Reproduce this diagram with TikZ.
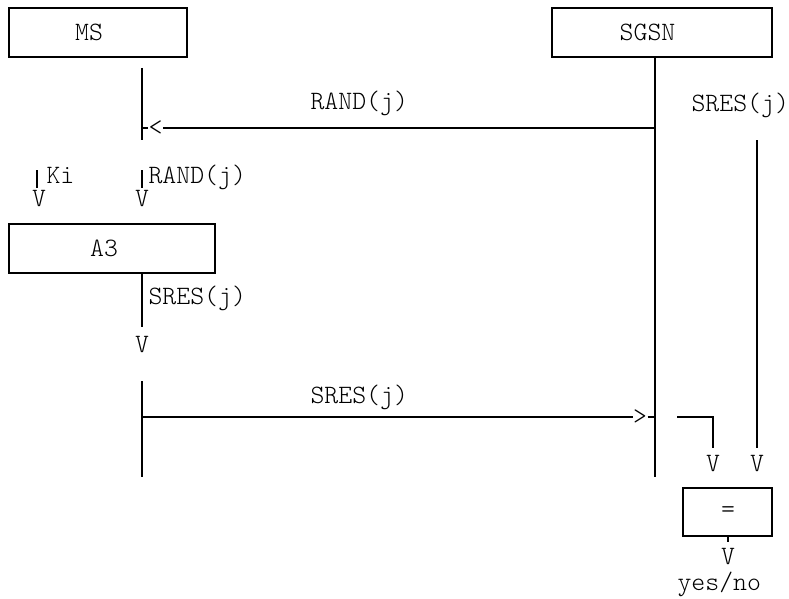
\documentclass[tikz,border=0pt]{standalone}
\usepackage{fontspec}
\setmonofont{Latin Modern Mono Light}
\begin{document}
\begin{tikzpicture}[x=1pt,y=-1pt,line width=1.1pt,
  every node/.style={font=\ttfamily\fontsize{26.5}{30}\selectfont,inner sep=0pt},
  box/.style={draw,line width=1.1pt},
  lbl/.style={anchor=base west},
  tip/.style={anchor=base}]
\useasboundingbox (0,0) rectangle (789,599);
% boxes
\node[box,minimum width=178pt,minimum height=49pt] (ms) at (98,32.5) {};
\node (mst) at (89,32.5) {MS};
\node[box,minimum width=220pt,minimum height=49pt] (sgsn) at (662,32.5) {};
\node (sgsnt) at (647.5,32.5) {SGSN};
\node[box,minimum width=206pt,minimum height=49pt] (a3) at (112,248.5) {};
\node (a3t) at (104,248.5) {A3};
\node[box,minimum width=89pt,minimum height=48pt] (eq) at (727.5,512) {};
\node (eqt) at (728,512) {=};
% SGSN lifeline
\coordinate (sgbot) at (655,477);
\draw (sgbot |- sgsn.south) -- (sgbot);
% MS upper lifeline and RAND arrow
\coordinate (ms1top) at (142,68);
\coordinate (ms1bot) at (142,140);
\draw (ms1top) -- (ms1bot);
\node (lt) at (155.5,128) {<};
\draw (ms1bot |- lt.west) -- (lt.west);
\draw (lt.east) -- (lt.east -| sgbot);
\node[lbl] (rl) at (310,110) {RAND(j)};
% right SRES line
\node[lbl] (srl) at (691,111) {SRES(j)};
\coordinate (srtop) at (757,140);
\node[tip] (v4) at (757,471) {V};
\draw (srtop) -- ([yshift=6pt]v4.north);
% Ki input
\coordinate (kitop) at (37,170);
\draw (kitop) -- ++(0,18);
\node[lbl] (kil) at (46,183) {Ki};
\node[tip] (vki) at (39,206) {V};
% RAND input
\coordinate (ratop) at (142,170);
\draw (ratop) -- ++(0,18);
\node[lbl] (ral) at (148,183) {RAND(j)};
\node[tip] (vra) at (142,206) {V};
% A3 output
\node[tip] (va3) at (142,352) {V};
\draw (a3.south -| va3) -- ([yshift=8pt]va3.north);
\node[lbl] (a3l) at (148,304) {SRES(j)};
% MS lower lifeline and SRES arrow
\coordinate (ms2top) at (142,381);
\coordinate (ms2bot) at (142,477);
\draw (ms2top) -- (ms2bot);
\node (gt) at (640,417) {>};
\draw (ms2top |- gt.west) -- (gt.west);
\draw (gt.east) -- (gt.east -| sgbot);
\node[lbl] (sl) at (310,403) {SRES(j)};
% stub to comparator
\node[tip] (v3) at (713,471) {V};
\coordinate (stub) at (677,417);
\draw (stub) -- (stub -| v3) -- ([yshift=6pt]v3.north);
% comparator output
\node[tip] (v5) at (728,564) {V};
\draw (eq.south -| v5) -- ([yshift=5pt]v5.north);
\node[lbl] (yn) at (677,590) {yes/no};
\end{tikzpicture}
\end{document}
